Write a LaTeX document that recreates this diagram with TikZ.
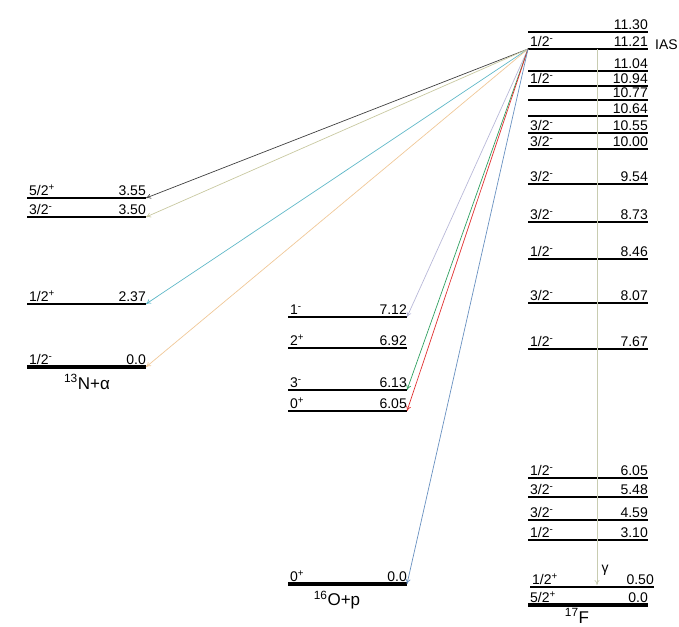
\documentclass[tikz,border=0pt]{standalone}
\usepackage{fontspec}
\setmainfont{Liberation Sans}
\usetikzlibrary{arrows.meta}
\definecolor{dkgray}{HTML}{404040}
\definecolor{khaki}{HTML}{C8C8A0}
\definecolor{teal}{HTML}{60B8C8}
\definecolor{peach}{HTML}{F0C898}
\definecolor{lavender}{HTML}{B8B8D8}
\definecolor{leaf}{HTML}{30A060}
\definecolor{scarlet}{HTML}{E03030}
\definecolor{steel}{HTML}{6890C0}
\definecolor{gammacol}{HTML}{C8CCB0}
\tikzset{
  level/.style={line width=1.6pt},
  ground/.style={line width=3.6pt},
  lbl/.style={font=\fontsize{14}{14}\selectfont,inner sep=0pt},
  nucl/.style={font=\fontsize{17}{17}\selectfont,inner sep=0pt},
  decay/.style={line width=0.7pt,-{To[length=5pt,width=5pt]}},
}
% level: style, name, x1, x2, y, spin, energy
\newcommand{\lev}[7][level]{%
  \draw[#1] (#3,#5) coordinate (#2l) -- (#4,#5) coordinate (#2);
  \node[lbl,anchor=base west] (#2s) at (#3+2,#5-2.5) {#6};
  \node[lbl,anchor=base east] (#2e) at (#4,#5-2.5) {#7};}
\newcommand{\m}{\textsuperscript{-}}
\newcommand{\p}{\textsuperscript{+}}
\begin{document}
\begin{tikzpicture}[x=1pt,y=-1pt]
  \useasboundingbox (0,0) rectangle (679,626);
  % 13N + alpha
  \lev{na355}{27}{146}{198}{5/2\p}{3.55}
  \lev{na350}{27}{146}{217}{3/2\m}{3.50}
  \lev{na237}{27}{146}{304}{1/2\p}{2.37}
  \lev[ground]{na000}{27}{146}{367}{1/2\m}{0.0}
  \node[nucl] (nalabel) at (87,382) {\textsuperscript{13}N+α};
  % 16O + p
  \lev{op712}{288}{407}{317}{1\m}{7.12}
  \lev{op692}{288}{407}{348}{2\p}{6.92}
  \lev{op613}{288}{407}{390}{3\m}{6.13}
  \lev{op605}{288}{407}{411}{0\p}{6.05}
  \lev[ground]{op000}{288}{407}{584}{0\p}{0.0}
  \node[nucl] (oplabel) at (337,600) {\textsuperscript{16}O+p};
  % 17F
  \lev{f1130}{528}{648}{32}{}{11.30}
  \lev{f1121}{528}{648}{49}{1/2\m}{11.21}
  \node[lbl,anchor=base west] (ias) at (655,49.5) {IAS};
  \lev{f1104}{528}{648}{71}{}{11.04}
  \lev{f1094}{528}{648}{86}{1/2\m}{10.94}
  \lev{f1077}{528}{648}{100}{}{10.77}
  \lev{f1064}{528}{648}{116}{}{10.64}
  \lev{f1055}{528}{648}{133}{3/2\m}{10.55}
  \lev{f1000}{528}{648}{149}{3/2\m}{10.00}
  \lev{f954}{528}{648}{184}{3/2\m}{9.54}
  \lev{f873}{528}{648}{222}{3/2\m}{8.73}
  \lev{f846}{528}{648}{259}{1/2\m}{8.46}
  \lev{f807}{528}{648}{303}{3/2\m}{8.07}
  \lev{f767}{528}{648}{349}{1/2\m}{7.67}
  \lev{f605}{528}{648}{478}{1/2\m}{6.05}
  \lev{f548}{528}{648}{497}{3/2\m}{5.48}
  \lev{f459}{528}{648}{520}{3/2\m}{4.59}
  \lev{f310}{528}{648}{540}{1/2\m}{3.10}
  \lev{f050}{530}{654}{587}{1/2\p}{0.50}
  \lev[ground]{f000}{528}{648}{605}{5/2\p}{0.0}
  \node[nucl] (flabel) at (577,616) {\textsuperscript{17}F};
  % gamma decay
  \coordinate (gtop) at (597,49);
  \coordinate (gbot) at (597,585);
  \draw[decay,gammacol] (gtop) -- (gbot);
  \node[lbl] (gamma) at (605,570) {γ};
  % particle decays from the IAS
  \draw[decay,dkgray] (f1121l) -- (na355);
  \draw[decay,khaki] (f1121l) -- (na350);
  \draw[decay,teal] (f1121l) -- (na237);
  \draw[decay,peach] (f1121l) -- (na000);
  \draw[decay,lavender] (f1121l) -- (op712);
  \draw[decay,leaf] (f1121l) -- (op613);
  \draw[decay,scarlet] (f1121l) -- (op605);
  \draw[decay,steel] (f1121l) -- (op000);
\end{tikzpicture}
\end{document}
